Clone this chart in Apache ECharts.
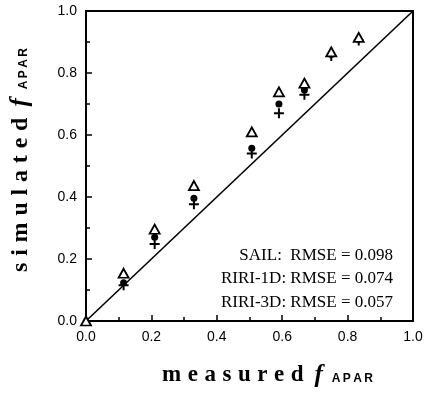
<!DOCTYPE html>
<html>
<head>
<meta charset="utf-8">
<script src="https://cdn.jsdelivr.net/npm/echarts@6/dist/echarts.min.js"></script>
<style>
  html, body { margin: 0; padding: 0; background: #fff; }
  #chart { width: 428px; height: 393px; }
</style>
</head>
<body>
<div id="chart"></div>
<script>
// measured fAPAR (x) and simulated fAPAR for each model (y)
const measured = [0, 0.115, 0.21, 0.33, 0.507, 0.59, 0.668, 0.75, 0.834];
const sail = [0, 0.154, 0.296, 0.437, 0.61, 0.739, 0.767, 0.868, 0.915];
const riri1d = [0, 0.123, 0.27, 0.396, 0.557, 0.70, 0.745, 0.86, 0.91];
const riri3d = [0, 0.115, 0.248, 0.377, 0.54, 0.67, 0.73, 0.855, 0.905];
const oneToOne = [0, 1];
const rmseLines = ['SAIL:  RMSE = 0.098', 'RIRI-1D: RMSE = 0.074', 'RIRI-3D: RMSE = 0.057'];

const pairs = (xs, ys) => xs.map((x, i) => [x, ys[i]]);
const plusPath = 'path://M4,0h2v4h4v2h-4v4h-2v-4h-4v-2h4z';
// wide letter spacing like the original print
const sp = (s, gap) => s.split('').join(gap || '\u2009\u200A');

var chart = echarts.init(document.getElementById('chart'));

const makeRich = size => ({
  b: { fontFamily: 'Liberation Serif', fontWeight: 'bold', fontSize: size, color: '#000', padding: [0, 11, 0, 0] },
  f: { fontFamily: 'Liberation Serif', fontWeight: 'bold', fontStyle: 'italic', fontSize: 25, color: '#000', padding: [0, 9, 0, 0] },
  a: { fontFamily: 'Liberation Sans', fontWeight: 'bold', fontSize: 12, color: '#000', padding: [6, 0, 0, 0] }
});

const axisCommon = {
  type: 'value',
  min: 0,
  max: 1,
  interval: 0.2,
  axisLine: { show: true, lineStyle: { color: '#000', width: 2 } },
  axisTick: { show: true, inside: true, length: 6, lineStyle: { color: '#000', width: 1.5 } },
  minorTick: { show: true, splitNumber: 2, length: 4, lineStyle: { color: '#000', width: 1.5 } },
  splitLine: { show: false },
  axisLabel: {
    color: '#000',
    fontFamily: 'Liberation Sans',
    fontSize: 14,
    margin: 9,
    formatter: v => v.toFixed(1)
  }
};

chart.setOption({
  animation: false,
  grid: { left: 82, right: 15, top: 11, bottom: 64, show: true, borderColor: '#000', borderWidth: 2 },
  xAxis: Object.assign({}, axisCommon, {
    name: '{b|' + sp('measured') + '}{f|f}{a|' + sp('APAR', '\u2009') + '}',
    nameLocation: 'middle',
    nameGap: 42,
    nameTextStyle: { padding: [0, 0, 0, 36], rich: makeRich(23) }
  }),
  yAxis: Object.assign({}, axisCommon, {
    name: '{b|' + sp('simulated') + '}{f|f}{a|' + sp('APAR', '\u2009') + '}',
    nameLocation: 'middle',
    nameGap: 53,
    nameTextStyle: { padding: [0, 0, 0, 12], rich: makeRich(24) }
  }),
  series: [
    {
      type: 'line',
      data: pairs(oneToOne, oneToOne),
      showSymbol: false,
      lineStyle: { color: '#000', width: 1.6 },
      silent: true,
      z: 1
    },
    {
      name: 'RIRI-3D',
      type: 'scatter',
      data: pairs(measured, riri3d).slice(1),
      symbol: plusPath,
      symbolSize: 10,
      itemStyle: { color: '#000', opacity: 1 },
      z: 2
    },
    {
      name: 'RIRI-1D',
      type: 'scatter',
      data: pairs(measured, riri1d).slice(1),
      symbol: 'circle',
      symbolSize: 7,
      itemStyle: { color: '#000', opacity: 1 },
      z: 3
    },
    {
      name: 'SAIL',
      type: 'scatter',
      data: pairs(measured, sail),
      symbol: 'triangle',
      symbolSize: [10, 9],
      itemStyle: { color: '#fff', borderColor: '#000', borderWidth: 1.8, opacity: 1 },
      z: 4
    }
  ],
  graphic: rmseLines.map((t, i) => ({
    type: 'text',
    right: 35,
    top: 247 + i * 23.5,
    style: {
      text: t,
      fontFamily: 'Liberation Serif',
      fontSize: 17,
      fill: '#000',
      textAlign: 'right'
    }
  }))
});
</script>
</body>
</html>
